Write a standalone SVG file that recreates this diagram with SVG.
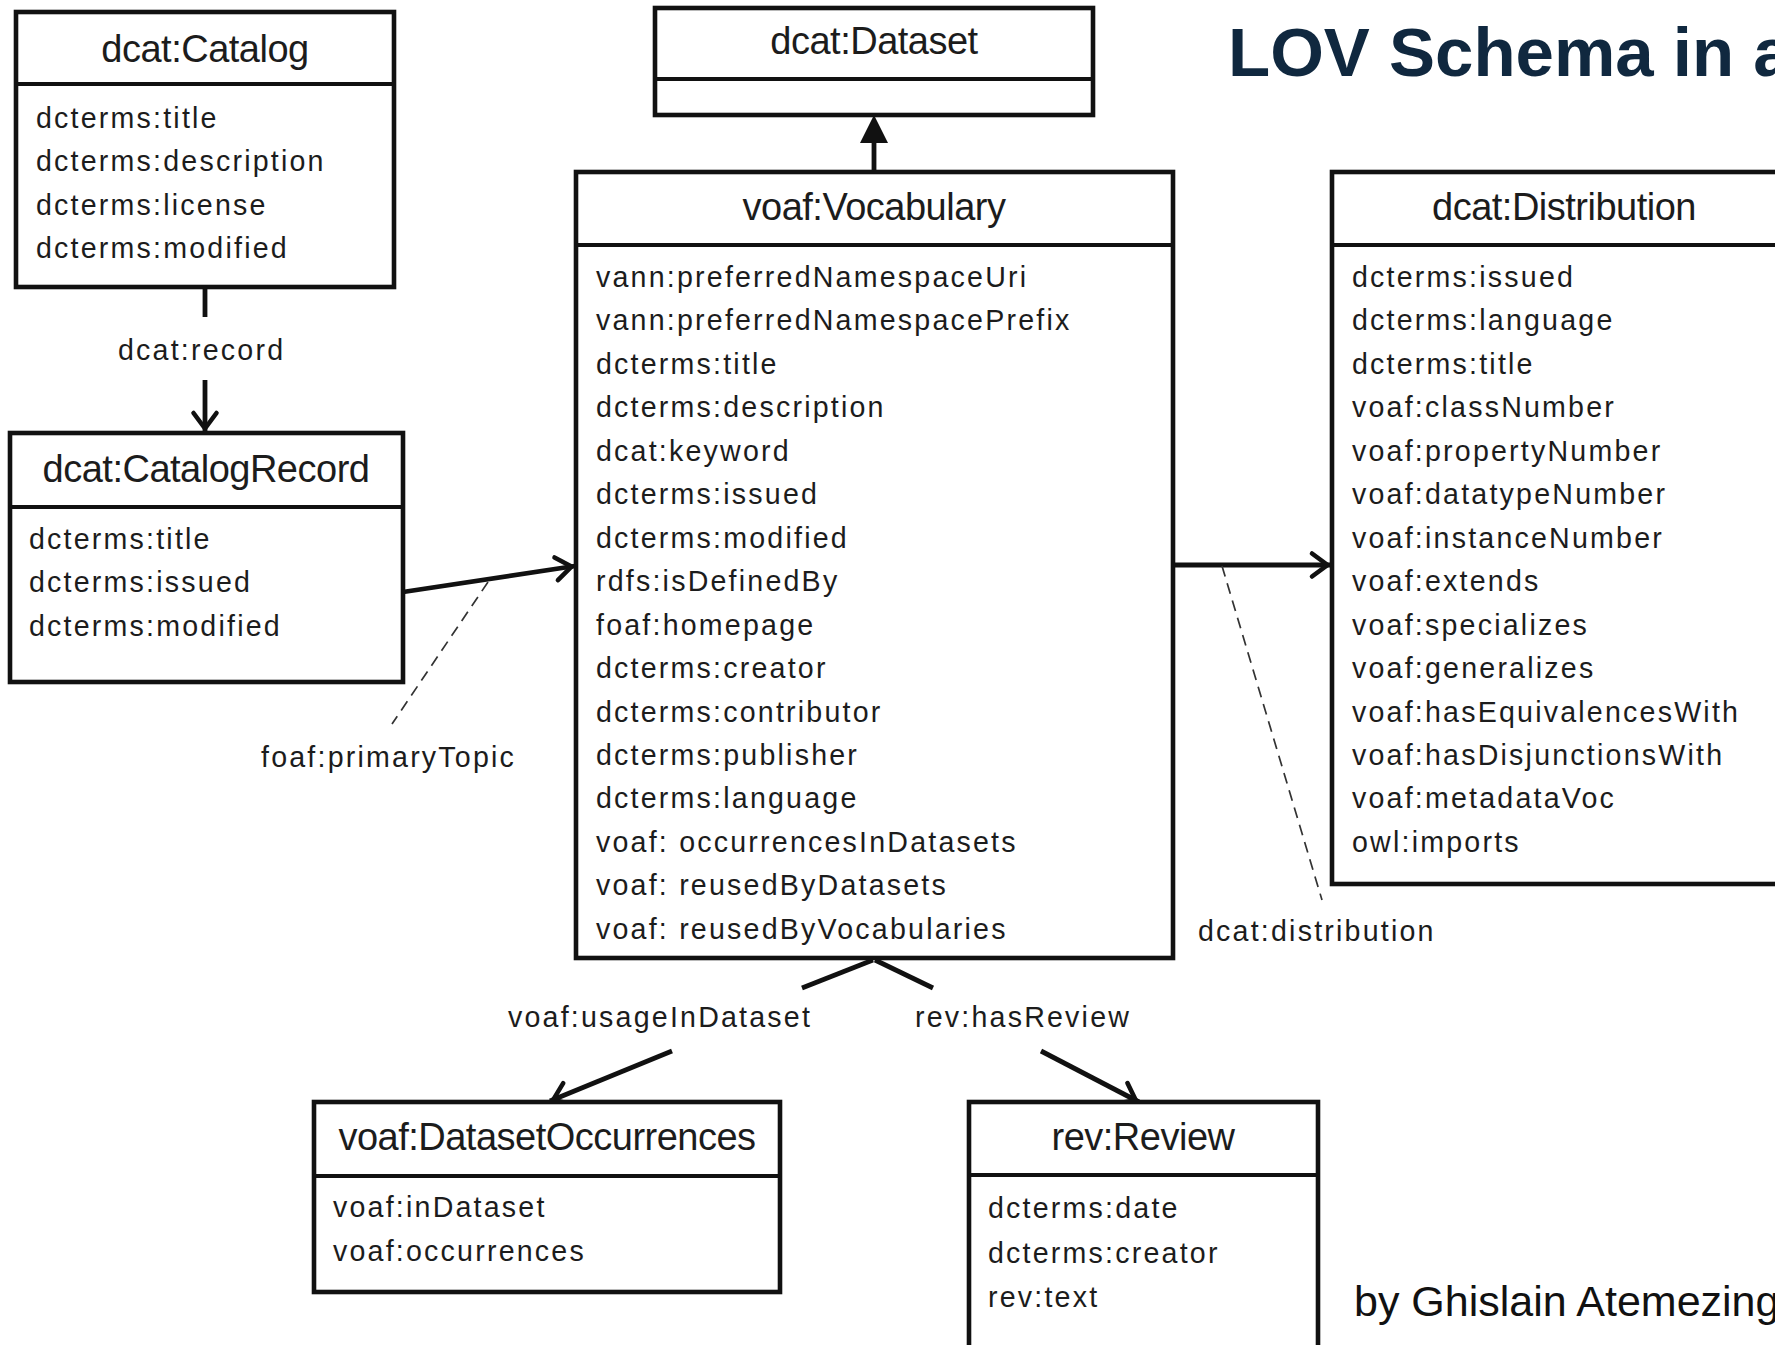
<svg xmlns="http://www.w3.org/2000/svg" width="1775" height="1345" viewBox="0 0 1775 1345">
  <defs>
    <style>
      .box { fill: #ffffff; stroke: #111111; stroke-width: 4.6; }
      .div { stroke: #111111; stroke-width: 3.8; }
      .ttl { font-family: "Liberation Sans", Arial, sans-serif; font-size: 38px; letter-spacing: -0.5px; fill: #1c1c1c; text-anchor: middle; }
      .itm { font-family: "Liberation Sans", Arial, sans-serif; font-size: 28.6px; letter-spacing: 2.2px; fill: #1c1c1c; }
      .lbl { font-family: "Liberation Sans", Arial, sans-serif; font-size: 28.6px; letter-spacing: 2.2px; fill: #1c1c1c; }
      .edge { fill: none; stroke: #111111; stroke-width: 4.8; }
      .dash { fill: none; stroke: #333333; stroke-width: 1.7; stroke-dasharray: 11 7; }
      .head { font-family: "Liberation Sans", Arial, sans-serif; font-weight: bold; font-size: 69px; fill: #10283f; }
      .byline { font-family: "Liberation Sans", Arial, sans-serif; font-size: 43px; fill: #111111; }
    </style>
    <marker id="open" markerUnits="userSpaceOnUse" markerWidth="40" markerHeight="40" viewBox="-30 -20 40 40" refX="0" refY="0" orient="auto" overflow="visible">
      <path d="M-19,-11.5 L-3.5,0 L-19,11.5" fill="none" stroke="#111111" stroke-width="4.6" stroke-linejoin="miter" stroke-linecap="round"/>
    </marker>
  </defs>

  <rect width="1775" height="1345" fill="#ffffff"/>

  <!-- heading and credit (both run past the right edge) -->
  <text class="head" x="1228" y="76">LOV Schema in a</text>
  <text class="byline" x="1354" y="1316">by Ghislain Atemezing</text>

  <!-- connectors -->
  <g id="connectors">
    <!-- voaf:Vocabulary specialises dcat:Dataset -->
    <line class="edge" x1="874" y1="172" x2="874" y2="141"/>
    <polygon points="874,115 860,143 888,143" fill="#111111"/>

    <!-- dcat:record -->
    <line class="edge" x1="205" y1="287" x2="205" y2="317"/>
    <line class="edge" x1="205" y1="380" x2="205" y2="432" marker-end="url(#open)"/>
    <text class="lbl" x="118" y="360">dcat:record</text>

    <!-- foaf:primaryTopic -->
    <line class="edge" x1="403" y1="592" x2="575" y2="566" marker-end="url(#open)"/>
    <line class="dash" x1="488" y1="582" x2="392" y2="724"/>
    <text class="lbl" x="261" y="767">foaf:primaryTopic</text>

    <!-- dcat:distribution -->
    <line class="edge" x1="1173" y1="565" x2="1331" y2="565" marker-end="url(#open)"/>
    <line class="dash" x1="1222" y1="566" x2="1322" y2="900"/>
    <text class="lbl" x="1198" y="941">dcat:distribution</text>

    <!-- voaf:usageInDataset -->
    <line class="edge" x1="873" y1="960" x2="802" y2="988"/>
    <line class="edge" x1="672" y1="1051" x2="550" y2="1101" marker-end="url(#open)"/>
    <text class="lbl" x="508" y="1027">voaf:usageInDataset</text>

    <!-- rev:hasReview -->
    <line class="edge" x1="875" y1="960" x2="933" y2="988"/>
    <line class="edge" x1="1041" y1="1051" x2="1139" y2="1102" marker-end="url(#open)"/>
    <text class="lbl" x="915" y="1027">rev:hasReview</text>
  </g>

  <!-- dcat:Catalog -->
  <g id="catalog">
    <rect class="box" x="16" y="12" width="378" height="275"/>
    <line class="div" x1="16" y1="84" x2="394" y2="84"/>
    <text class="ttl" x="205" y="62">dcat:Catalog</text>
    <text class="itm">
      <tspan x="36" y="128">dcterms:title</tspan>
      <tspan x="36" dy="43.3">dcterms:description</tspan>
      <tspan x="36" dy="43.3">dcterms:license</tspan>
      <tspan x="36" dy="43.3">dcterms:modified</tspan>
    </text>
  </g>

  <!-- dcat:Dataset -->
  <g id="dataset">
    <rect class="box" x="655" y="8" width="438" height="107"/>
    <line class="div" x1="655" y1="79" x2="1093" y2="79"/>
    <text class="ttl" x="874" y="54">dcat:Dataset</text>
  </g>

  <!-- dcat:CatalogRecord -->
  <g id="catalogRecord">
    <rect class="box" x="10" y="433" width="393" height="249"/>
    <line class="div" x1="10" y1="507" x2="403" y2="507"/>
    <text class="ttl" x="206" y="482">dcat:CatalogRecord</text>
    <text class="itm">
      <tspan x="29" y="549">dcterms:title</tspan>
      <tspan x="29" dy="43.3">dcterms:issued</tspan>
      <tspan x="29" dy="43.3">dcterms:modified</tspan>
    </text>
  </g>

  <!-- voaf:Vocabulary -->
  <g id="vocabulary">
    <rect class="box" x="576" y="172" width="597" height="786"/>
    <line class="div" x1="576" y1="245" x2="1173" y2="245"/>
    <text class="ttl" x="874" y="220">voaf:Vocabulary</text>
    <text class="itm">
      <tspan x="596" y="287">vann:preferredNamespaceUri</tspan>
      <tspan x="596" dy="43.45">vann:preferredNamespacePrefix</tspan>
      <tspan x="596" dy="43.45">dcterms:title</tspan>
      <tspan x="596" dy="43.45">dcterms:description</tspan>
      <tspan x="596" dy="43.45">dcat:keyword</tspan>
      <tspan x="596" dy="43.45">dcterms:issued</tspan>
      <tspan x="596" dy="43.45">dcterms:modified</tspan>
      <tspan x="596" dy="43.45">rdfs:isDefinedBy</tspan>
      <tspan x="596" dy="43.45">foaf:homepage</tspan>
      <tspan x="596" dy="43.45">dcterms:creator</tspan>
      <tspan x="596" dy="43.45">dcterms:contributor</tspan>
      <tspan x="596" dy="43.45">dcterms:publisher</tspan>
      <tspan x="596" dy="43.45">dcterms:language</tspan>
      <tspan x="596" dy="43.45">voaf: occurrencesInDatasets</tspan>
      <tspan x="596" dy="43.45">voaf: reusedByDatasets</tspan>
      <tspan x="596" dy="43.45">voaf: reusedByVocabularies</tspan>
    </text>
  </g>

  <!-- dcat:Distribution -->
  <g id="distribution">
    <rect class="box" x="1332" y="172" width="470" height="712"/>
    <line class="div" x1="1332" y1="245" x2="1802" y2="245"/>
    <text class="ttl" x="1564" y="220">dcat:Distribution</text>
    <text class="itm">
      <tspan x="1352" y="287">dcterms:issued</tspan>
      <tspan x="1352" dy="43.45">dcterms:language</tspan>
      <tspan x="1352" dy="43.45">dcterms:title</tspan>
      <tspan x="1352" dy="43.45">voaf:classNumber</tspan>
      <tspan x="1352" dy="43.45">voaf:propertyNumber</tspan>
      <tspan x="1352" dy="43.45">voaf:datatypeNumber</tspan>
      <tspan x="1352" dy="43.45">voaf:instanceNumber</tspan>
      <tspan x="1352" dy="43.45">voaf:extends</tspan>
      <tspan x="1352" dy="43.45">voaf:specializes</tspan>
      <tspan x="1352" dy="43.45">voaf:generalizes</tspan>
      <tspan x="1352" dy="43.45">voaf:hasEquivalencesWith</tspan>
      <tspan x="1352" dy="43.45">voaf:hasDisjunctionsWith</tspan>
      <tspan x="1352" dy="43.45">voaf:metadataVoc</tspan>
      <tspan x="1352" dy="43.45">owl:imports</tspan>
    </text>
  </g>

  <!-- voaf:DatasetOccurrences -->
  <g id="datasetOccurrences">
    <rect class="box" x="314" y="1102" width="466" height="190"/>
    <line class="div" x1="314" y1="1176" x2="780" y2="1176"/>
    <text class="ttl" x="547" y="1150">voaf:DatasetOccurrences</text>
    <text class="itm">
      <tspan x="333" y="1217">voaf:inDataset</tspan>
      <tspan x="333" dy="44">voaf:occurrences</tspan>
    </text>
  </g>

  <!-- rev:Review -->
  <g id="review">
    <rect class="box" x="969" y="1102" width="349" height="270"/>
    <line class="div" x1="969" y1="1175" x2="1318" y2="1175"/>
    <text class="ttl" x="1143" y="1150">rev:Review</text>
    <text class="itm">
      <tspan x="988" y="1218">dcterms:date</tspan>
      <tspan x="988" dy="44.5">dcterms:creator</tspan>
      <tspan x="988" dy="44.5">rev:text</tspan>
    </text>
  </g>
</svg>
